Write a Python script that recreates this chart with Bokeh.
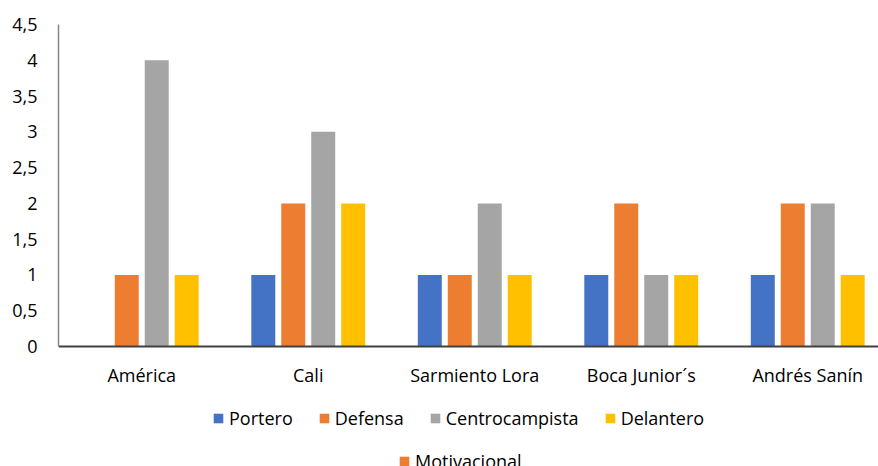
from bokeh.plotting import figure
from bokeh.models import Range1d, FixedTicker, CustomJSTickFormatter, ColumnDataSource, Legend, LegendItem
from bokeh.transform import dodge
from bokeh.embed import file_html
from bokeh.resources import INLINE

categories = ["América", "Cali", "Sarmiento Lora", "Boca Junior´s", "Andrés Sanín"]
portero = [0, 1, 1, 1, 1]
defensa = [1, 2, 1, 2, 2]
centrocampista = [4, 3, 2, 1, 2]
delantero = [1, 2, 1, 1, 1]
motivacional = [0, 0, 0, 0, 0]
y_ticks = [0, 0.5, 1, 1.5, 2, 2.5, 3, 3.5, 4, 4.5]

series = [
    ("Portero", portero, "#4472C4"),
    ("Defensa", defensa, "#ED7D31"),
    ("Centrocampista", centrocampista, "#A5A5A5"),
    ("Delantero", delantero, "#FFC000"),
]

FONT = "Open Sans"
FS = "18px"
xs = [i + 0.5 for i in range(len(categories))]
data = dict(x=xs, portero=portero, defensa=defensa, centrocampista=centrocampista,
            delantero=delantero, motivacional=motivacional)
src = ColumnDataSource(data)

p = figure(width=878, height=466, output_backend="svg", toolbar_location=None,
           x_range=Range1d(0, 4.925), y_range=Range1d(-1.677, 4.5),
           min_border_left=58, min_border_right=0, min_border_top=24, min_border_bottom=0)
p.outline_line_color = None
p.xgrid.visible = False
p.ygrid.visible = False

offsets = [-0.27, -0.09, 0.09, 0.27]
keys = ["portero", "defensa", "centrocampista", "delantero"]
items1 = []
for (name, vals, color), off, key in zip(series, offsets, keys):
    r = p.vbar(x=dodge("x", off), top=key, bottom=0, width=0.144, source=src,
               fill_color=color, line_color=None)
    items1.append(LegendItem(label=name, renderers=[r]))

rm = p.vbar(x="x", top="motivacional", bottom=0, width=0.001, source=src,
            fill_color="#ED7D31", line_color=None)
items2 = [LegendItem(label="Motivacional", renderers=[rm])]

for lg, loc in ((Legend(items=items1), (154, 36)), (Legend(items=items2), (340, -7))):
    lg.orientation = "horizontal"
    lg.location = loc
    lg.padding = 0
    lg.margin = 0
    lg.spacing = 25
    lg.glyph_width = 12
    lg.glyph_height = 12
    lg.label_height = 20
    lg.label_standoff = 5
    lg.label_text_font = FONT
    lg.label_text_font_size = FS
    lg.label_text_color = "#000000"
    lg.border_line_color = None
    lg.background_fill_alpha = 0
    p.add_layout(lg, "center")

p.yaxis.ticker = FixedTicker(ticks=y_ticks)
p.yaxis.bounds = (0, 4.5)
p.yaxis.formatter = CustomJSTickFormatter(code="return tick.toString().replace('.', ',');")
p.yaxis.major_tick_out = 0
p.yaxis.major_tick_in = 0
p.yaxis.minor_tick_out = 0
p.yaxis.minor_tick_in = 0
p.yaxis.axis_line_color = "#858585"
p.yaxis.axis_line_width = 1.5
p.yaxis.major_label_standoff = 21
p.yaxis.major_label_text_font = FONT
p.yaxis.major_label_text_font_size = FS
p.yaxis.major_label_text_color = "#000000"

p.xaxis.fixed_location = 0
p.xaxis.ticker = FixedTicker(ticks=xs)
p.xaxis.formatter = CustomJSTickFormatter(args=dict(labels=categories),
                                          code="return labels[Math.floor(tick)];")
p.xaxis.major_tick_out = 0
p.xaxis.major_tick_in = 0
p.xaxis.minor_tick_out = 0
p.xaxis.minor_tick_in = 0
p.xaxis.axis_line_color = "#404040"
p.xaxis.axis_line_width = 2
p.xaxis.major_label_standoff = 16
p.xaxis.major_label_text_font = FONT
p.xaxis.major_label_text_font_size = FS
p.xaxis.major_label_text_color = "#000000"

open("out.html", "w").write(file_html(p, INLINE))
